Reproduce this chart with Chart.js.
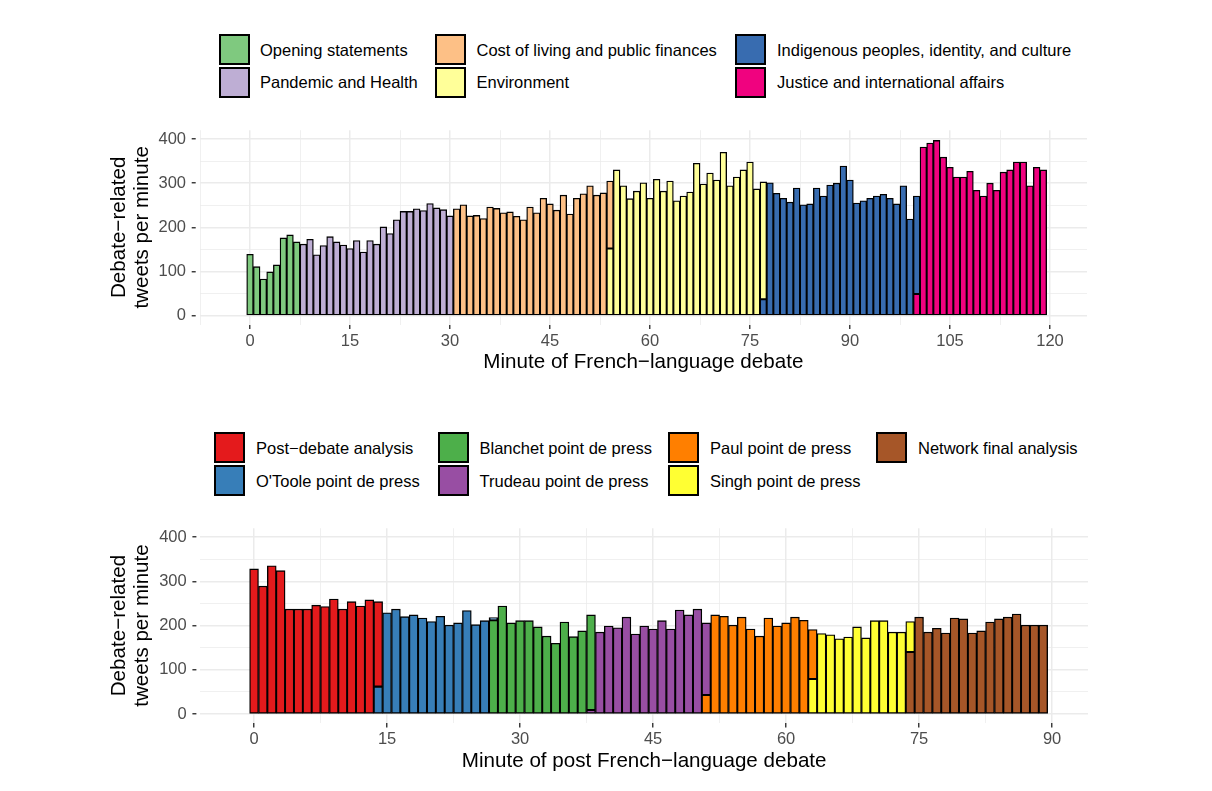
<!DOCTYPE html>
<html>
<head>
<meta charset="utf-8">
<script src="https://cdn.jsdelivr.net/npm/chart.js@4.4.1/dist/chart.umd.min.js"></script>
<style>
  body { margin: 0; background: #fff; width: 1212px; height: 791px; position: relative; overflow: hidden;
         font-family: "Liberation Sans", Arial, sans-serif; }
  canvas { position: absolute; left: 0; }
  .key { position: absolute; width: 31px; height: 31px; box-sizing: border-box; border: 2px solid #000; }
  .lab { position: absolute; font-size: 16.5px; line-height: 20px; color: #000; white-space: nowrap; }
</style>
</head>
<body>
<div id="legends"></div>
<canvas id="debate" width="1212" height="395" style="top:0"></canvas>
<canvas id="post" width="1212" height="396" style="top:395px"></canvas>
<script>
// tweets per minute, index = minute of the debate
const debateTotals = [
  139, 111, 83, 99, 115, 176, 183, 167, 162, 173,
  138, 159, 179, 167, 160, 152, 170, 144, 170, 162,
  201, 186, 217, 236, 236, 242, 238, 254, 244, 240,
  226, 242, 251, 226, 227, 220, 246, 243, 233, 235,
  225, 217, 246, 233, 266, 253, 239, 273, 230, 266,
  276, 294, 273, 278, 305, 330, 294, 265, 282, 301,
  266, 309, 282, 305, 260, 271, 280, 345, 298, 323,
  307, 370, 294, 314, 330, 348, 287, 303, 301, 277,
  266, 257, 289, 251, 253, 289, 271, 296, 300, 339,
  307, 255, 260, 266, 271, 275, 266, 253, 294, 219,
  271, 382, 391, 397, 359, 336, 314, 314, 327, 284,
  271, 300, 284, 325, 330, 348, 348, 294, 336, 330
];
const debateTopics = [
  'Opening statements', 'Pandemic and Health', 'Cost of living and public finances',
  'Environment', 'Indigenous peoples, identity, and culture', 'Justice and international affairs'
];
// first minute of each topic, and the new topic's share of that minute when it is split
const debateTopicStart = [0, 8, 31, 54, 77, 100];
const debateSharedFirst = [null, null, null, 152, 37, 49];

const postTotals = [
  328, 289, 335, 324, 237, 237, 237, 246, 243, 260,
  237, 254, 244, 258, 254, 229, 237, 220, 224, 217,
  209, 221, 201, 206, 234, 202, 211, 218, 244, 206,
  211, 211, 197, 176, 160, 208, 175, 188, 224, 185,
  199, 195, 219, 181, 199, 192, 211, 192, 235, 224,
  237, 206, 224, 221, 201, 219, 192, 176, 217, 199,
  206, 219, 212, 191, 182, 179, 170, 174, 197, 172,
  211, 211, 185, 185, 209, 219, 185, 194, 183, 217,
  215, 183, 188, 208, 215, 219, 226, 201, 201, 201
];
const postSegments = [
  'Post\u2212debate analysis', "O'Toole point de press", 'Blanchet point de press',
  'Trudeau point de press', 'Paul point de press', 'Singh point de press', 'Network final analysis'
];
const postSegmentStart = [0, 14, 27, 38, 51, 63, 74];
const postSharedFirst = [null, 62, 212, 9, 43, 79, 140];

const debateTicks = [0, 15, 30, 45, 60, 75, 90, 105, 120];
const postTicks = [0, 15, 30, 45, 60, 75, 90];
const yTicks = [0, 100, 200, 300, 400];

const debateColors = ['#7FC97F', '#BEAED4', '#FDC086', '#FFFF99', '#386CB0', '#F0027F'];
const postColors = ['#E41A1C', '#377EB8', '#4DAF4A', '#984EA3', '#FF7F00', '#FFFF33', '#A65628'];

const FONT = '"Liberation Sans", Arial, sans-serif';

// split the per-minute totals into one series per segment
function segmentSeries(totals, starts, shared) {
  return starts.map((s, k) => {
    const next = k + 1 < starts.length ? starts[k + 1] : null;
    const last = next === null ? totals.length - 1 : (shared[k + 1] != null ? next : next - 1);
    const pts = [];
    for (let m = s; m <= last; m++) {
      let v = totals[m];
      if (m === s && shared[k] != null) v = shared[k];
      else if (next !== null && m === next) v = totals[m] - shared[k + 1];
      pts.push({ x: m, y: v });
    }
    return pts;
  });
}

function legend(names, colors, keyXs, textXs, rowYs) {
  const host = document.getElementById('legends');
  names.forEach((name, i) => {
    const col = Math.floor(i / 2), row = i % 2;
    const key = document.createElement('div');
    key.className = 'key';
    key.style.left = keyXs[col] + 'px';
    key.style.top = rowYs[row] + 'px';
    key.style.background = colors[i];
    host.appendChild(key);
    const lab = document.createElement('div');
    lab.className = 'lab';
    lab.style.left = textXs[col] + 'px';
    lab.style.top = (rowYs[row] + 15.5 - 10) + 'px';
    lab.textContent = name;
    host.appendChild(lab);
  });
}

legend(debateTopics, debateColors, [218.5, 434.5, 735], [260, 476.5, 777], [34.3, 66.7]);
legend(postSegments, postColors, [214, 437.5, 668, 876], [256, 479.5, 710, 918], [432.3, 465]);

function makeChart(id, series, colors, names, xMin, xMax, majors, xTitle, pad, yWidth) {
  const minors = majors.map(v => v - 7.5).concat([majors[majors.length - 1] + 7.5])
    .filter(v => v >= xMin && v <= xMax);
  const xGrid = majors.concat(minors).sort((a, b) => a - b);
  const yGrid = [0, 50, 100, 150, 200, 250, 300, 350, 400];
  const isMajorX = v => majors.includes(v);
  const isMajorY = v => yTicks.includes(v);

  const datasets = series.map((pts, k) => ({
    label: names[k],
    data: pts,
    backgroundColor: colors[k],
    borderColor: '#000',
    borderWidth: 1.35,
    borderSkipped: false,
    barPercentage: 1,
    categoryPercentage: 1
  })).reverse();

  return new Chart(document.getElementById(id), {
    type: 'bar',
    data: { datasets },
    options: {
      responsive: false,
      animation: false,
      layout: { padding: pad },
      plugins: { legend: { display: false }, tooltip: { enabled: false } },
      scales: {
        x: {
          type: 'linear', stacked: true, min: xMin, max: xMax, offset: false,
          afterBuildTicks: s => { s.ticks = xGrid.map(v => ({ value: v })); },
          afterFit: s => { s.height = 49.9; },
          border: { display: false },
          grid: {
            offset: false,
            color: '#EBEBEB',
            lineWidth: c => (c.tick && isMajorX(c.tick.value)) ? 1.5 : 0.75,
            tickLength: 4.5,
            tickWidth: 1.4,
            tickColor: c => (c.tick && isMajorX(c.tick.value)) ? '#333333' : 'rgba(0,0,0,0)'
          },
          ticks: {
            autoSkip: false, maxRotation: 0, padding: 2.1, color: '#4D4D4D',
            font: { family: FONT, size: 16.5 },
            callback: v => isMajorX(v) ? String(v) : ''
          },
          title: {
            display: true, text: xTitle, color: '#000', padding: 0,
            font: { family: FONT, size: 20.6, lineHeight: 1.13 }
          }
        },
        y: {
          stacked: true, min: -20, max: 420,
          afterBuildTicks: s => { s.ticks = yGrid.map(v => ({ value: v })); },
          afterFit: s => { s.width = yWidth; },
          border: { display: false },
          grid: {
            color: '#EBEBEB',
            lineWidth: c => (c.tick && isMajorY(c.tick.value)) ? 1.5 : 0.75,
            tickLength: 8,
            tickWidth: 1.4,
            tickBorderDash: [4, 10],
            tickColor: c => (c.tick && isMajorY(c.tick.value)) ? '#333333' : 'rgba(0,0,0,0)'
          },
          ticks: {
            autoSkip: false, padding: 5.7, color: '#4D4D4D',
            font: { family: FONT, size: 16.5 },
            callback: v => isMajorY(v) ? String(v) : ''
          },
          title: {
            display: true, text: ['Debate\u2212related', 'tweets per minute'], color: '#000', padding: 0,
            font: { family: FONT, size: 20.6, lineHeight: 1.13 }
          }
        }
      }
    }
  });
}

makeChart('debate',
  segmentSeries(debateTotals, debateTopicStart, debateSharedFirst),
  debateColors, debateTopics, -7.55, 125.55, debateTicks,
  'Minute of French\u2212language debate',
  { left: 107.3, right: 125, top: 130.2, bottom: 20.6 }, 92.4);

makeChart('post',
  segmentSeries(postTotals, postSegmentStart, postSharedFirst),
  postColors, postSegments, -6.05, 94.05, postTicks,
  'Minute of post French\u2212language debate',
  { left: 107.3, right: 124, top: 133.2, bottom: 18.2 }, 93.1);
</script>
</body>
</html>
